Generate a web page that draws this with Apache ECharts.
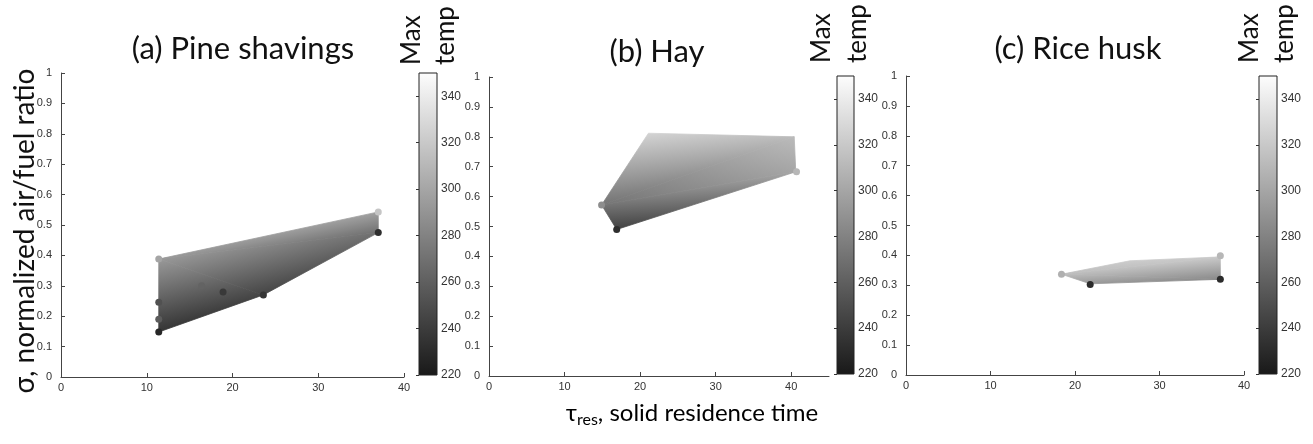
<!DOCTYPE html>
<html><head><meta charset="utf-8">
<script src="https://cdn.jsdelivr.net/npm/echarts@6/dist/echarts.min.js"></script>
<style>html,body{margin:0;padding:0;background:#fff}#c{width:1313px;height:444px}</style>
</head><body><div id="c"></div>
<script>
// ---- data ----
const panelTitles = ['(a) Pine shavings', '(b) Hay', '(c) Rice husk'];
const xTickMax = [40, 45, 40];
const cbarTicks = [220, 240, 260, 280, 300, 320, 340];
const T_MIN = 220, T_MAX = 350;

// region outlines (x = residence time, y = sigma, t = max temp)
const pineX = [11.4, 37.0, 37.0, 23.6, 11.4];
const pineY = [0.388, 0.543, 0.475, 0.270, 0.148];
const pineT = [293, 297, 270, 245, 236];
const hayX = [14.9, 21.1, 40.4, 40.6, 16.9];
const hayY = [0.572, 0.812, 0.800, 0.683, 0.490];
const hayT = [272, 326, 312, 300, 243];
const riceX = [18.4, 26.5, 37.2, 37.2, 21.8];
const riceY = [0.337, 0.382, 0.395, 0.320, 0.305];
const riceT = [314, 322, 320, 284, 292];

// marked design points
const pineMX = [11.4, 37.0, 37.0, 23.6, 11.4, 11.4, 11.4, 18.9, 16.4];
const pineMY = [0.388, 0.543, 0.475, 0.270, 0.148, 0.246, 0.190, 0.280, 0.300];
const pineMT = [300, 318, 232, 236, 228, 252, 258, 238, 262];
const hayMX = [14.9, 16.9, 40.7];
const hayMY = [0.572, 0.490, 0.683];
const hayMT = [286, 232, 310];
const riceMX = [18.4, 21.8, 37.2, 37.2];
const riceMY = [0.337, 0.303, 0.320, 0.399];
const riceMT = [306, 230, 230, 310];

// ---- helpers ----
function grayVal(t) {
  const v = 25 + (t - T_MIN) / (T_MAX - T_MIN) * 228;
  return Math.max(0, Math.min(255, Math.round(v)));
}
function grayCss(t) { const g = grayVal(t); return 'rgb(' + g + ',' + g + ',' + g + ')'; }

function triFill(p, t) {
  const d1x = p[1][0] - p[0][0], d1y = p[1][1] - p[0][1];
  const d2x = p[2][0] - p[0][0], d2y = p[2][1] - p[0][1];
  const dt1 = t[1] - t[0], dt2 = t[2] - t[0];
  const det = d1x * d2y - d1y * d2x;
  const a = (dt1 * d2y - d1y * dt2) / det, b = (d1x * dt2 - dt1 * d2x) / det;
  const g2 = a * a + b * b;
  if (!isFinite(g2) || g2 < 1e-9) return grayCss((t[0] + t[1] + t[2]) / 3);
  const sx = p[0][0] - a * (t[0] - T_MIN) / g2, sy = p[0][1] - b * (t[0] - T_MIN) / g2;
  const ex = sx + a * (T_MAX - T_MIN) / g2, ey = sy + b * (T_MAX - T_MIN) / g2;
  return new echarts.graphic.LinearGradient(sx, sy, ex, ey,
    [{offset: 0, color: grayCss(T_MIN)}, {offset: 1, color: grayCss(T_MAX)}], true);
}

function fanTriangles(xs, ys, ts) {
  const out = [];
  for (let i = 1; i < xs.length - 1; i++) {
    out.push([xs[0], ys[0], ts[0], xs[i], ys[i], ts[i], xs[i + 1], ys[i + 1], ts[i + 1]]);
  }
  return out;
}
function points(xs, ys, ts) { return xs.map((x, i) => [x, ys[i], ts[i]]); }

// ---- layout ----
const FONT_TXT = 'Lato, "Open Sans", sans-serif';
const FONT_NUM = '"Liberation Sans", Arial, sans-serif';
const plotGrids = [
  {left: 61, top: 73, width: 343, height: 304},
  {left: 489, top: 77, width: 340, height: 299},
  {left: 906, top: 76, width: 338, height: 299}
];
const cbGrids = [
  {left: 419, top: 73, width: 18, height: 302},
  {left: 837, top: 76, width: 17, height: 298},
  {left: 1259, top: 76, width: 18, height: 298}
];
const titlePos = [[243, 49], [657, 52], [1078, 49]];
const maxPos = [[412, 65], [822, 63], [1250, 63]];
const tempPos = [[446, 65], [858, 63], [1285, 63]];

const regions = [[pineX, pineY, pineT], [hayX, hayY, hayT], [riceX, riceY, riceT]];
const marks = [[pineMX, pineMY, pineMT], [hayMX, hayMY, hayMT], [riceMX, riceMY, riceMT]];

const grid = [], xAxis = [], yAxis = [], series = [], graphic = [];
const axisCol = '#444', labCol = '#333';

for (let k = 0; k < 3; k++) {
  const gi = grid.length;
  grid.push(plotGrids[k]);
  xAxis.push({type: 'value', gridIndex: gi, min: 0, max: xTickMax[k], interval: 10,
    axisLine: {lineStyle: {color: axisCol, width: 1}},
    axisTick: {inside: true, length: 4, lineStyle: {color: axisCol}},
    axisLabel: {color: labCol, fontSize: 11, fontFamily: FONT_NUM, margin: 5, showMaxLabel: xTickMax[k] === 40},
    splitLine: {show: false}});
  yAxis.push({type: 'value', gridIndex: gi, min: 0, max: 1, interval: 0.1,
    axisLine: {show: true, lineStyle: {color: axisCol, width: 1}},
    axisTick: {show: true, inside: true, length: 4, lineStyle: {color: axisCol}},
    axisLabel: {color: labCol, fontSize: 11, fontFamily: FONT_NUM, margin: 9},
    splitLine: {show: false}});
  const ax = xAxis.length - 1, ay = yAxis.length - 1;
  const r = regions[k];
  series.push({type: 'custom', xAxisIndex: ax, yAxisIndex: ay, silent: true, z: 2,
    data: fanTriangles(r[0], r[1], r[2]),
    renderItem: function (params, api) {
      const p = [0, 1, 2].map(j => api.coord([api.value(3 * j), api.value(3 * j + 1)]));
      const t = [0, 1, 2].map(j => api.value(3 * j + 2));
      const f = triFill(p, t);
      return {type: 'polygon', shape: {points: p}, style: {fill: f, stroke: f, lineWidth: 0.8}};
    }});
  const m = marks[k];
  series.push({type: 'scatter', xAxisIndex: ax, yAxisIndex: ay, z: 3, symbolSize: 7,
    data: points(m[0], m[1], m[2]),
    itemStyle: {color: p => grayCss(p.value[2]), opacity: 1}});

  // colorbar
  const ci = grid.length;
  grid.push(cbGrids[k]);
  xAxis.push({type: 'value', gridIndex: ci, min: 0, max: 1, show: false});
  yAxis.push({type: 'value', gridIndex: ci, min: T_MIN, max: T_MAX, interval: 20, position: 'right', z: 5,
    axisLine: {show: false},
    axisTick: {show: true, inside: true, length: 3, lineStyle: {color: '#333'}},
    axisLabel: {color: labCol, fontSize: 12, fontFamily: FONT_NUM, margin: 4, showMaxLabel: false,
      formatter: v => (cbarTicks.indexOf(v) >= 0 ? String(v) : '')},
    splitLine: {show: false}});
  const cx = xAxis.length - 1, cy = yAxis.length - 1;
  series.push({type: 'custom', xAxisIndex: cx, yAxisIndex: cy, silent: true, z: 2,
    data: [[0, T_MIN, 1, T_MAX]],
    renderItem: function (params, api) {
      const bl = api.coord([api.value(0), api.value(1)]);
      const tr = api.coord([api.value(2), api.value(3)]);
      const fill = new echarts.graphic.LinearGradient(0, bl[1], 0, tr[1],
        [{offset: 0, color: grayCss(api.value(1))}, {offset: 1, color: grayCss(api.value(3))}], true);
      return {type: 'rect', shape: {x: bl[0], y: tr[1], width: tr[0] - bl[0], height: bl[1] - tr[1]},
        style: {fill: fill, stroke: '#222', lineWidth: 1}};
    }});

  graphic.push({type: 'text', x: titlePos[k][0], y: titlePos[k][1],
    style: {text: panelTitles[k], font: '31px ' + FONT_TXT, fill: '#111', textAlign: 'center', textVerticalAlign: 'middle'}});
  graphic.push({type: 'text', x: maxPos[k][0], y: maxPos[k][1], rotation: Math.PI / 2,
    style: {text: 'Max', font: '26px ' + FONT_TXT, fill: '#111', textAlign: 'left', textVerticalAlign: 'middle'}});
  graphic.push({type: 'text', x: tempPos[k][0], y: tempPos[k][1], rotation: Math.PI / 2,
    style: {text: 'temp', font: '26px ' + FONT_TXT, fill: '#111', textAlign: 'left', textVerticalAlign: 'middle'}});
}

graphic.push({type: 'text', x: 25, y: 231, rotation: Math.PI / 2,
  style: {text: 'σ, normalized air/fuel ratio', font: '28px ' + FONT_TXT, fill: '#111', textAlign: 'center', textVerticalAlign: 'middle'}});
graphic.push({type: 'text', x: 692, y: 413,
  style: {text: '{a|τ}{s|res}{a|, solid residence time}', textAlign: 'center', textVerticalAlign: 'middle',
    rich: {a: {fontSize: 24, fontFamily: FONT_TXT, color: '#111'},
           s: {fontSize: 16, fontFamily: FONT_TXT, color: '#111', padding: [13, 0, 0, 0]}}}});

const chart = echarts.init(document.getElementById('c'), null, {renderer: 'canvas'});
chart.setOption({animation: false, backgroundColor: '#fff', grid, xAxis, yAxis, series, graphic});
</script>
</body></html>
